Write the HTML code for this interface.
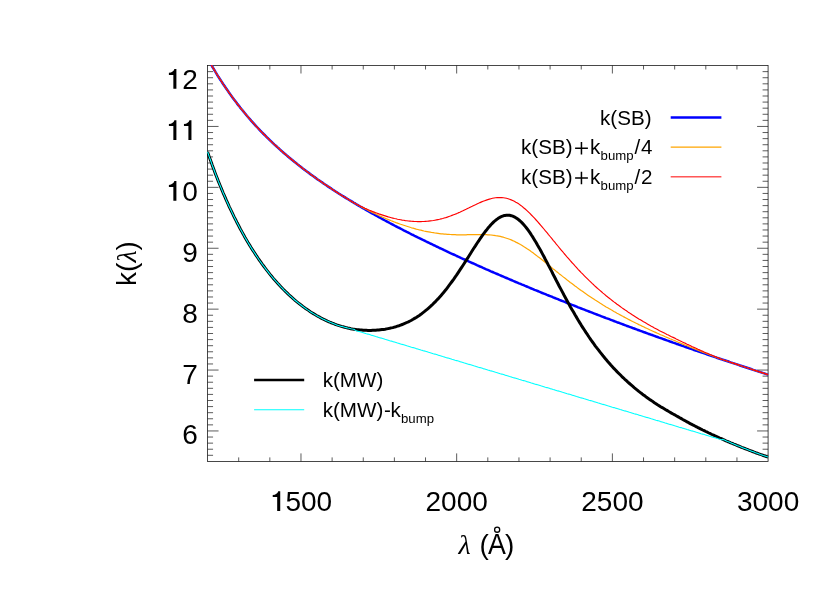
<!DOCTYPE html>
<html><head><meta charset="utf-8"><title>k(lambda)</title>
<style>
html,body{margin:0;padding:0;background:#fff;}
svg{display:block;will-change:transform;}
text{font-family:"Liberation Sans",sans-serif;fill:#000;}
.t{font-size:28px;}
.l{font-size:20.6px;}
.s{font-size:13.2px;}
</style></head><body>
<svg width="830" height="593" viewBox="0 0 830 593">
<rect width="830" height="593" fill="#fff"/>
<defs><clipPath id="c"><rect x="206.95" y="65.10" width="561.73" height="396.70"/></clipPath></defs>

<path d="M207.55 455.31L213.05 455.31M768.08 455.31L762.58 455.31M207.55 449.22L213.05 449.22M768.08 449.22L762.58 449.22M207.55 443.13L213.05 443.13M768.08 443.13L762.58 443.13M207.55 437.04L213.05 437.04M768.08 437.04L762.58 437.04M207.55 430.95L218.55 430.95M768.08 430.95L757.08 430.95M207.55 424.86L213.05 424.86M768.08 424.86L762.58 424.86M207.55 418.77L213.05 418.77M768.08 418.77L762.58 418.77M207.55 412.68L213.05 412.68M768.08 412.68L762.58 412.68M207.55 406.59L213.05 406.59M768.08 406.59L762.58 406.59M207.55 400.50L213.05 400.50M768.08 400.50L762.58 400.50M207.55 394.41L213.05 394.41M768.08 394.41L762.58 394.41M207.55 388.32L213.05 388.32M768.08 388.32L762.58 388.32M207.55 382.23L213.05 382.23M768.08 382.23L762.58 382.23M207.55 376.14L213.05 376.14M768.08 376.14L762.58 376.14M207.55 370.05L218.55 370.05M768.08 370.05L757.08 370.05M207.55 363.96L213.05 363.96M768.08 363.96L762.58 363.96M207.55 357.87L213.05 357.87M768.08 357.87L762.58 357.87M207.55 351.78L213.05 351.78M768.08 351.78L762.58 351.78M207.55 345.69L213.05 345.69M768.08 345.69L762.58 345.69M207.55 339.60L213.05 339.60M768.08 339.60L762.58 339.60M207.55 333.51L213.05 333.51M768.08 333.51L762.58 333.51M207.55 327.42L213.05 327.42M768.08 327.42L762.58 327.42M207.55 321.33L213.05 321.33M768.08 321.33L762.58 321.33M207.55 315.24L213.05 315.24M768.08 315.24L762.58 315.24M207.55 309.15L218.55 309.15M768.08 309.15L757.08 309.15M207.55 303.06L213.05 303.06M768.08 303.06L762.58 303.06M207.55 296.97L213.05 296.97M768.08 296.97L762.58 296.97M207.55 290.88L213.05 290.88M768.08 290.88L762.58 290.88M207.55 284.79L213.05 284.79M768.08 284.79L762.58 284.79M207.55 278.70L213.05 278.70M768.08 278.70L762.58 278.70M207.55 272.61L213.05 272.61M768.08 272.61L762.58 272.61M207.55 266.52L213.05 266.52M768.08 266.52L762.58 266.52M207.55 260.43L213.05 260.43M768.08 260.43L762.58 260.43M207.55 254.34L213.05 254.34M768.08 254.34L762.58 254.34M207.55 248.25L218.55 248.25M768.08 248.25L757.08 248.25M207.55 242.16L213.05 242.16M768.08 242.16L762.58 242.16M207.55 236.07L213.05 236.07M768.08 236.07L762.58 236.07M207.55 229.98L213.05 229.98M768.08 229.98L762.58 229.98M207.55 223.89L213.05 223.89M768.08 223.89L762.58 223.89M207.55 217.80L213.05 217.80M768.08 217.80L762.58 217.80M207.55 211.71L213.05 211.71M768.08 211.71L762.58 211.71M207.55 205.62L213.05 205.62M768.08 205.62L762.58 205.62M207.55 199.53L213.05 199.53M768.08 199.53L762.58 199.53M207.55 193.44L213.05 193.44M768.08 193.44L762.58 193.44M207.55 187.35L218.55 187.35M768.08 187.35L757.08 187.35M207.55 181.26L213.05 181.26M768.08 181.26L762.58 181.26M207.55 175.17L213.05 175.17M768.08 175.17L762.58 175.17M207.55 169.08L213.05 169.08M768.08 169.08L762.58 169.08M207.55 162.99L213.05 162.99M768.08 162.99L762.58 162.99M207.55 156.90L213.05 156.90M768.08 156.90L762.58 156.90M207.55 150.81L213.05 150.81M768.08 150.81L762.58 150.81M207.55 144.72L213.05 144.72M768.08 144.72L762.58 144.72M207.55 138.63L213.05 138.63M768.08 138.63L762.58 138.63M207.55 132.54L213.05 132.54M768.08 132.54L762.58 132.54M207.55 126.45L218.55 126.45M768.08 126.45L757.08 126.45M207.55 120.36L213.05 120.36M768.08 120.36L762.58 120.36M207.55 114.27L213.05 114.27M768.08 114.27L762.58 114.27M207.55 108.18L213.05 108.18M768.08 108.18L762.58 108.18M207.55 102.09L213.05 102.09M768.08 102.09L762.58 102.09M207.55 96.00L213.05 96.00M768.08 96.00L762.58 96.00M207.55 89.91L213.05 89.91M768.08 89.91L762.58 89.91M207.55 83.82L213.05 83.82M768.08 83.82L762.58 83.82M207.55 77.73L213.05 77.73M768.08 77.73L762.58 77.73M207.55 71.64L213.05 71.64M768.08 71.64L762.58 71.64M238.69 461.40L238.69 457.40M238.69 65.50L238.69 69.50M269.83 461.40L269.83 457.40M269.83 65.50L269.83 69.50M300.97 461.40L300.97 453.40M300.97 65.50L300.97 73.50M332.11 461.40L332.11 457.40M332.11 65.50L332.11 69.50M363.25 461.40L363.25 457.40M363.25 65.50L363.25 69.50M394.39 461.40L394.39 457.40M394.39 65.50L394.39 69.50M425.53 461.40L425.53 457.40M425.53 65.50L425.53 69.50M456.67 461.40L456.67 453.40M456.67 65.50L456.67 73.50M487.81 461.40L487.81 457.40M487.81 65.50L487.81 69.50M518.96 461.40L518.96 457.40M518.96 65.50L518.96 69.50M550.10 461.40L550.10 457.40M550.10 65.50L550.10 69.50M581.24 461.40L581.24 457.40M581.24 65.50L581.24 69.50M612.38 461.40L612.38 453.40M612.38 65.50L612.38 73.50M643.52 461.40L643.52 457.40M643.52 65.50L643.52 69.50M674.66 461.40L674.66 457.40M674.66 65.50L674.66 69.50M705.80 461.40L705.80 457.40M705.80 65.50L705.80 69.50M736.94 461.40L736.94 457.40M736.94 65.50L736.94 69.50" stroke="#1c1c1c" stroke-width="0.72" fill="none"/>
<rect x="207.55" y="65.50" width="560.53" height="395.90" fill="none" stroke="#151515" stroke-width="0.78"/>
<g clip-path="url(#c)" fill="none" stroke-linejoin="round">
<path d="M207.6,58.3 L209.1,61.1 L210.7,63.8 L212.2,66.5 L213.8,69.1 L215.3,71.7 L216.9,74.3 L218.4,76.8 L220.0,79.2 L221.6,81.6 L223.1,84.0 L224.7,86.3 L226.2,88.6 L227.8,90.8 L229.3,93.1 L230.9,95.2 L232.5,97.4 L234.0,99.5 L235.6,101.6 L237.1,103.6 L238.7,105.6 L240.2,107.6 L241.8,109.5 L243.4,111.4 L244.9,113.3 L246.5,115.2 L248.0,117.0 L249.6,118.8 L251.1,120.6 L252.7,122.3 L254.3,124.1 L255.8,125.8 L257.4,127.5 L258.9,129.1 L260.5,130.8 L262.0,132.4 L263.6,134.0 L265.2,135.5 L266.7,137.1 L268.3,138.6 L269.8,140.1 L271.4,141.6 L272.9,143.1 L274.5,144.6 L276.1,146.0 L277.6,147.4 L279.2,148.8 L280.7,150.2 L282.3,151.6 L283.8,153.0 L285.4,154.3 L287.0,155.6 L288.5,157.0 L290.1,158.3 L291.6,159.5 L293.2,160.8 L294.7,162.1 L296.3,163.3 L297.9,164.6 L299.4,165.8 L301.0,167.0 L302.5,168.2 L304.1,169.4 L305.6,170.6 L307.2,171.8 L308.8,172.9 L310.3,174.1 L311.9,175.2 L313.4,176.3 L315.0,177.4 L316.5,178.6 L318.1,179.7 L319.7,180.7 L321.2,181.8 L322.8,182.9 L324.3,184.0 L325.9,185.0 L327.4,186.1 L329.0,187.1 L330.6,188.1 L332.1,189.2 L333.7,190.2 L335.2,191.2 L336.8,192.2 L338.3,193.2 L339.9,194.2 L341.5,195.2 L343.0,196.2 L344.6,197.1 L346.1,198.1 L347.7,199.0 L349.2,200.0 L350.8,200.9 L352.4,201.9 L353.9,202.8 L355.5,203.7 L357.0,204.7 L358.6,205.6 L360.1,206.5 L361.7,207.4 L363.3,208.3 L364.8,209.2 L366.4,210.1 L367.9,211.0 L369.5,211.9 L371.0,212.8 L372.6,213.6 L374.2,214.5 L375.7,215.4 L377.3,216.2 L378.8,217.1 L380.4,217.9 L381.9,218.8 L383.5,219.6 L385.1,220.5 L386.6,221.3 L388.2,222.2 L389.7,223.0 L391.3,223.8 L392.8,224.6 L394.4,225.5 L396.0,226.3 L397.5,227.1 L399.1,227.9 L400.6,228.7 L402.2,229.5 L403.7,230.3 L405.3,231.1 L406.8,231.9 L408.4,232.7 L410.0,233.5 L411.5,234.3 L413.1,235.0 L414.6,235.8 L416.2,236.6 L417.7,237.4 L419.3,238.1 L420.9,238.9 L422.4,239.7 L424.0,240.4 L425.5,241.2 L427.1,242.0 L428.6,242.7 L430.2,243.5 L431.8,244.2 L433.3,245.0 L434.9,245.7 L436.4,246.5 L438.0,247.2 L439.5,248.0 L441.1,248.7 L442.7,249.4 L444.2,250.2 L445.8,250.9 L447.3,251.6 L448.9,252.4 L450.4,253.1 L452.0,253.8 L453.6,254.5 L455.1,255.2 L456.7,256.0 L458.2,256.7 L459.8,257.4 L461.3,258.1 L462.9,258.8 L464.5,259.5 L466.0,260.2 L467.6,260.9 L469.1,261.6 L470.7,262.3 L472.2,263.0 L473.8,263.7 L475.4,264.4 L476.9,265.1 L478.5,265.8 L480.0,266.5 L481.6,267.2 L483.1,267.9 L484.7,268.6 L486.3,269.3 L487.8,269.9 L489.4,270.6 L490.9,271.3 L492.5,272.0 L494.0,272.7 L495.6,273.3 L497.2,274.0 L498.7,274.7 L500.3,275.3 L501.8,276.0 L503.4,276.7 L504.9,277.3 L506.5,278.0 L508.1,278.7 L509.6,279.3 L511.2,280.0 L512.7,280.7 L514.3,281.3 L515.8,282.0 L517.4,282.6 L519.0,283.3 L520.5,283.9 L522.1,284.6 L523.6,285.2 L525.2,285.9 L526.7,286.5 L528.3,287.2 L529.9,287.8 L531.4,288.5 L533.0,289.1 L534.5,289.8 L536.1,290.4 L537.6,291.0 L539.2,291.7 L540.8,292.3 L542.3,293.0 L543.9,293.6 L545.4,294.2 L547.0,294.9 L548.5,295.5 L550.1,296.1 L551.7,296.7 L553.2,297.4 L554.8,298.0 L556.3,298.6 L557.9,299.2 L559.4,299.9 L561.0,300.5 L562.6,301.1 L564.1,301.7 L565.7,302.3 L567.2,303.0 L568.8,303.6 L570.3,304.2 L571.9,304.8 L573.5,305.4 L575.0,306.0 L576.6,306.6 L578.1,307.3 L579.7,307.9 L581.2,308.5 L582.8,309.1 L584.4,309.7 L585.9,310.3 L587.5,310.9 L589.0,311.5 L590.6,312.1 L592.1,312.7 L593.7,313.3 L595.2,313.9 L596.8,314.5 L598.4,315.1 L599.9,315.7 L601.5,316.3 L603.0,316.9 L604.6,317.5 L606.1,318.1 L607.7,318.6 L609.3,319.2 L610.8,319.8 L612.4,320.4 L613.9,321.0 L615.5,321.6 L617.0,322.2 L618.6,322.7 L620.2,323.3 L621.7,323.9 L623.3,324.5 L624.8,325.1 L626.4,325.7 L627.9,326.2 L629.5,326.8 L631.1,327.4 L632.6,328.0 L634.2,328.5 L635.7,329.1 L637.3,329.7 L638.8,330.2 L640.4,330.8 L642.0,331.4 L643.5,332.0 L645.1,332.5 L646.6,333.1 L648.2,333.7 L649.7,334.2 L651.3,334.8 L652.9,335.3 L654.4,335.9 L656.0,336.5 L657.5,337.0 L659.1,337.6 L660.6,338.1 L662.2,338.7 L663.8,339.3 L665.3,339.8 L666.9,340.4 L668.4,340.9 L670.0,341.5 L671.5,342.0 L673.1,342.6 L674.7,343.1 L676.2,343.7 L677.8,344.2 L679.3,344.8 L680.9,345.3 L682.4,345.9 L684.0,346.4 L685.6,347.0 L687.1,347.5 L688.7,348.0 L690.2,348.6 L691.8,349.1 L693.3,349.7 L694.9,350.2 L696.5,350.7 L698.0,351.3 L699.6,351.8 L701.1,352.3 L702.7,352.9 L704.2,353.4 L705.8,353.9 L707.4,354.5 L708.9,355.0 L710.5,355.5 L712.0,356.1 L713.6,356.6 L715.1,357.1 L716.7,357.7 L718.3,358.2 L719.8,358.7 L721.4,359.2 L722.9,359.8 L724.5,360.3 L726.0,360.8 L727.6,361.3 L729.2,361.8 L730.7,362.4 L732.3,362.9 L733.8,363.4 L735.4,363.9 L736.9,364.4 L738.5,364.9 L740.1,365.5 L741.6,366.0 L743.2,366.5 L744.7,367.0 L746.3,367.5 L747.8,368.0 L749.4,368.5 L751.0,369.0 L752.5,369.6 L754.1,370.1 L755.6,370.6 L757.2,371.1 L758.7,371.6 L760.3,372.1 L761.9,372.6 L763.4,373.1 L765.0,373.6 L766.5,374.1 L768.1,374.6" stroke="#0000ff" stroke-width="2.5"/>
<path d="M207.6,58.3 L209.1,61.1 L210.7,63.8 L212.2,66.5 L213.8,69.1 L215.3,71.7 L216.9,74.3 L218.4,76.8 L220.0,79.2 L221.6,81.6 L223.1,84.0 L224.7,86.3 L226.2,88.6 L227.8,90.8 L229.3,93.1 L230.9,95.2 L232.5,97.4 L234.0,99.5 L235.6,101.6 L237.1,103.6 L238.7,105.6 L240.2,107.6 L241.8,109.5 L243.4,111.4 L244.9,113.3 L246.5,115.2 L248.0,117.0 L249.6,118.8 L251.1,120.6 L252.7,122.3 L254.3,124.1 L255.8,125.8 L257.4,127.5 L258.9,129.1 L260.5,130.8 L262.0,132.4 L263.6,134.0 L265.2,135.5 L266.7,137.1 L268.3,138.6 L269.8,140.1 L271.4,141.6 L272.9,143.1 L274.5,144.6 L276.1,146.0 L277.6,147.4 L279.2,148.8 L280.7,150.2 L282.3,151.6 L283.8,153.0 L285.4,154.3 L287.0,155.6 L288.5,157.0 L290.1,158.3 L291.6,159.5 L293.2,160.8 L294.7,162.1 L296.3,163.3 L297.9,164.6 L299.4,165.8 L301.0,167.0 L302.5,168.2 L304.1,169.4 L305.6,170.6 L307.2,171.8 L308.8,172.9 L310.3,174.1 L311.9,175.2 L313.4,176.3 L315.0,177.4 L316.5,178.6 L318.1,179.7 L319.7,180.7 L321.2,181.8 L322.8,182.9 L324.3,184.0 L325.9,185.0 L327.4,186.1 L329.0,187.1 L330.6,188.1 L332.1,189.2 L333.7,190.2 L335.2,191.2 L336.8,192.2 L338.3,193.2 L339.9,194.2 L341.5,195.2 L343.0,196.2 L344.6,197.1 L346.1,198.1 L347.7,199.0 L349.2,200.0 L350.8,200.9 L352.4,201.9 L353.9,202.8 L355.5,203.7 L357.0,204.6 L358.6,205.5 L360.1,206.3 L361.7,207.1 L363.3,207.9 L364.8,208.7 L366.4,209.5 L367.9,210.3 L369.5,211.1 L371.0,211.8 L372.6,212.6 L374.2,213.3 L375.7,214.0 L377.3,214.8 L378.8,215.5 L380.4,216.2 L381.9,216.9 L383.5,217.5 L385.1,218.2 L386.6,218.9 L388.2,219.5 L389.7,220.1 L391.3,220.8 L392.8,221.4 L394.4,222.0 L396.0,222.6 L397.5,223.1 L399.1,223.7 L400.6,224.3 L402.2,224.8 L403.7,225.3 L405.3,225.8 L406.8,226.3 L408.4,226.8 L410.0,227.3 L411.5,227.8 L413.1,228.2 L414.6,228.6 L416.2,229.1 L417.7,229.5 L419.3,229.9 L420.9,230.2 L422.4,230.6 L424.0,231.0 L425.5,231.3 L427.1,231.6 L428.6,231.9 L430.2,232.2 L431.8,232.5 L433.3,232.7 L434.9,233.0 L436.4,233.2 L438.0,233.4 L439.5,233.6 L441.1,233.8 L442.7,233.9 L444.2,234.1 L445.8,234.2 L447.3,234.3 L448.9,234.4 L450.4,234.5 L452.0,234.6 L453.6,234.7 L455.1,234.7 L456.7,234.8 L458.2,234.8 L459.8,234.8 L461.3,234.8 L462.9,234.8 L464.5,234.8 L466.0,234.8 L467.6,234.7 L469.1,234.7 L470.7,234.7 L472.2,234.6 L473.8,234.6 L475.4,234.6 L476.9,234.6 L478.5,234.6 L480.0,234.6 L481.6,234.6 L483.1,234.6 L484.7,234.6 L486.3,234.7 L487.8,234.8 L489.4,234.9 L490.9,235.0 L492.5,235.2 L494.0,235.3 L495.6,235.6 L497.2,235.8 L498.7,236.1 L500.3,236.4 L501.8,236.8 L503.4,237.2 L504.9,237.7 L506.5,238.2 L508.1,238.7 L509.6,239.3 L511.2,239.9 L512.7,240.6 L514.3,241.3 L515.8,242.1 L517.4,242.9 L519.0,243.7 L520.5,244.6 L522.1,245.5 L523.6,246.5 L525.2,247.4 L526.7,248.5 L528.3,249.5 L529.9,250.6 L531.4,251.7 L533.0,252.8 L534.5,254.0 L536.1,255.2 L537.6,256.4 L539.2,257.6 L540.8,258.8 L542.3,260.0 L543.9,261.3 L545.4,262.5 L547.0,263.8 L548.5,265.1 L550.1,266.3 L551.7,267.6 L553.2,268.9 L554.8,270.1 L556.3,271.4 L557.9,272.6 L559.4,273.9 L561.0,275.1 L562.6,276.4 L564.1,277.6 L565.7,278.8 L567.2,280.1 L568.8,281.3 L570.3,282.5 L571.9,283.6 L573.5,284.8 L575.0,286.0 L576.6,287.1 L578.1,288.3 L579.7,289.4 L581.2,290.5 L582.8,291.6 L584.4,292.7 L585.9,293.8 L587.5,294.9 L589.0,295.9 L590.6,297.0 L592.1,298.0 L593.7,299.1 L595.2,300.1 L596.8,301.1 L598.4,302.1 L599.9,303.1 L601.5,304.0 L603.0,305.0 L604.6,305.9 L606.1,306.9 L607.7,307.8 L609.3,308.7 L610.8,309.6 L612.4,310.5 L613.9,311.4 L615.5,312.3 L617.0,313.2 L618.6,314.0 L620.2,314.9 L621.7,315.7 L623.3,316.6 L624.8,317.4 L626.4,318.2 L627.9,319.1 L629.5,319.9 L631.1,320.7 L632.6,321.5 L634.2,322.2 L635.7,323.0 L637.3,323.8 L638.8,324.6 L640.4,325.3 L642.0,326.1 L643.5,326.8 L645.1,327.6 L646.6,328.3 L648.2,329.0 L649.7,329.8 L651.3,330.5 L652.9,331.2 L654.4,331.9 L656.0,332.6 L657.5,333.3 L659.1,334.0 L660.6,334.7 L662.2,335.3 L663.8,336.0 L665.3,336.7 L666.9,337.4 L668.4,338.0 L670.0,338.7 L671.5,339.3 L673.1,340.0 L674.7,340.6 L676.2,341.3 L677.8,342.0 L679.3,342.6 L680.9,343.3 L682.4,343.9 L684.0,344.6 L685.6,345.2 L687.1,345.8 L688.7,346.5 L690.2,347.1 L691.8,347.7 L693.3,348.4 L694.9,349.0 L696.5,349.6 L698.0,350.2 L699.6,350.9 L701.1,351.5 L702.7,352.1 L704.2,352.7 L705.8,353.3 L707.4,353.9 L708.9,354.5 L710.5,355.1 L712.0,355.7 L713.6,356.3 L715.1,356.9 L716.7,357.5 L718.3,358.1 L719.8,358.6 L721.4,359.2 L722.9,359.8 L724.5,360.3 L726.0,360.8 L727.6,361.3 L729.2,361.8 L730.7,362.4 L732.3,362.9 L733.8,363.4 L735.4,363.9 L736.9,364.4 L738.5,364.9 L740.1,365.5 L741.6,366.0 L743.2,366.5 L744.7,367.0 L746.3,367.5 L747.8,368.0 L749.4,368.5 L751.0,369.0 L752.5,369.6 L754.1,370.1 L755.6,370.6 L757.2,371.1 L758.7,371.6 L760.3,372.1 L761.9,372.6 L763.4,373.1 L765.0,373.6 L766.5,374.1 L768.1,374.6" stroke="#ffa500" stroke-width="1.2"/>
<path d="M207.6,58.3 L209.1,61.1 L210.7,63.8 L212.2,66.5 L213.8,69.1 L215.3,71.7 L216.9,74.3 L218.4,76.8 L220.0,79.2 L221.6,81.6 L223.1,84.0 L224.7,86.3 L226.2,88.6 L227.8,90.8 L229.3,93.1 L230.9,95.2 L232.5,97.4 L234.0,99.5 L235.6,101.6 L237.1,103.6 L238.7,105.6 L240.2,107.6 L241.8,109.5 L243.4,111.4 L244.9,113.3 L246.5,115.2 L248.0,117.0 L249.6,118.8 L251.1,120.6 L252.7,122.3 L254.3,124.1 L255.8,125.8 L257.4,127.5 L258.9,129.1 L260.5,130.8 L262.0,132.4 L263.6,134.0 L265.2,135.5 L266.7,137.1 L268.3,138.6 L269.8,140.1 L271.4,141.6 L272.9,143.1 L274.5,144.6 L276.1,146.0 L277.6,147.4 L279.2,148.8 L280.7,150.2 L282.3,151.6 L283.8,153.0 L285.4,154.3 L287.0,155.6 L288.5,157.0 L290.1,158.3 L291.6,159.5 L293.2,160.8 L294.7,162.1 L296.3,163.3 L297.9,164.6 L299.4,165.8 L301.0,167.0 L302.5,168.2 L304.1,169.4 L305.6,170.6 L307.2,171.8 L308.8,172.9 L310.3,174.1 L311.9,175.2 L313.4,176.3 L315.0,177.4 L316.5,178.6 L318.1,179.7 L319.7,180.7 L321.2,181.8 L322.8,182.9 L324.3,184.0 L325.9,185.0 L327.4,186.1 L329.0,187.1 L330.6,188.1 L332.1,189.2 L333.7,190.2 L335.2,191.2 L336.8,192.2 L338.3,193.2 L339.9,194.2 L341.5,195.2 L343.0,196.2 L344.6,197.1 L346.1,198.1 L347.7,199.0 L349.2,200.0 L350.8,200.9 L352.4,201.9 L353.9,202.8 L355.5,203.7 L357.0,204.5 L358.6,205.3 L360.1,206.1 L361.7,206.8 L363.3,207.5 L364.8,208.2 L366.4,208.9 L367.9,209.6 L369.5,210.3 L371.0,210.9 L372.6,211.5 L374.2,212.1 L375.7,212.7 L377.3,213.3 L378.8,213.9 L380.4,214.4 L381.9,214.9 L383.5,215.4 L385.1,215.9 L386.6,216.4 L388.2,216.9 L389.7,217.3 L391.3,217.7 L392.8,218.1 L394.4,218.5 L396.0,218.8 L397.5,219.2 L399.1,219.5 L400.6,219.8 L402.2,220.1 L403.7,220.3 L405.3,220.6 L406.8,220.8 L408.4,221.0 L410.0,221.1 L411.5,221.3 L413.1,221.4 L414.6,221.5 L416.2,221.5 L417.7,221.6 L419.3,221.6 L420.9,221.6 L422.4,221.5 L424.0,221.5 L425.5,221.4 L427.1,221.3 L428.6,221.1 L430.2,220.9 L431.8,220.7 L433.3,220.5 L434.9,220.2 L436.4,219.9 L438.0,219.6 L439.5,219.3 L441.1,218.9 L442.7,218.5 L444.2,218.0 L445.8,217.6 L447.3,217.1 L448.9,216.5 L450.4,216.0 L452.0,215.4 L453.6,214.8 L455.1,214.2 L456.7,213.6 L458.2,212.9 L459.8,212.2 L461.3,211.5 L462.9,210.8 L464.5,210.0 L466.0,209.3 L467.6,208.5 L469.1,207.8 L470.7,207.0 L472.2,206.3 L473.8,205.5 L475.4,204.8 L476.9,204.0 L478.5,203.3 L480.0,202.6 L481.6,201.9 L483.1,201.3 L484.7,200.7 L486.3,200.1 L487.8,199.6 L489.4,199.1 L490.9,198.7 L492.5,198.3 L494.0,198.0 L495.6,197.8 L497.2,197.6 L498.7,197.6 L500.3,197.6 L501.8,197.6 L503.4,197.8 L504.9,198.0 L506.5,198.3 L508.1,198.8 L509.6,199.3 L511.2,199.9 L512.7,200.5 L514.3,201.3 L515.8,202.2 L517.4,203.1 L519.0,204.1 L520.5,205.2 L522.1,206.4 L523.6,207.7 L525.2,209.0 L526.7,210.4 L528.3,211.9 L529.9,213.4 L531.4,215.0 L533.0,216.6 L534.5,218.2 L536.1,220.0 L537.6,221.7 L539.2,223.5 L540.8,225.3 L542.3,227.1 L543.9,229.0 L545.4,230.9 L547.0,232.7 L548.5,234.6 L550.1,236.5 L551.7,238.4 L553.2,240.3 L554.8,242.2 L556.3,244.1 L557.9,246.0 L559.4,247.9 L561.0,249.8 L562.6,251.7 L564.1,253.5 L565.7,255.3 L567.2,257.1 L568.8,258.9 L570.3,260.7 L571.9,262.5 L573.5,264.2 L575.0,265.9 L576.6,267.6 L578.1,269.3 L579.7,271.0 L581.2,272.6 L582.8,274.2 L584.4,275.8 L585.9,277.3 L587.5,278.9 L589.0,280.4 L590.6,281.9 L592.1,283.4 L593.7,284.8 L595.2,286.3 L596.8,287.7 L598.4,289.1 L599.9,290.4 L601.5,291.8 L603.0,293.1 L604.6,294.4 L606.1,295.7 L607.7,297.0 L609.3,298.2 L610.8,299.4 L612.4,300.7 L613.9,301.9 L615.5,303.0 L617.0,304.2 L618.6,305.3 L620.2,306.5 L621.7,307.6 L623.3,308.7 L624.8,309.8 L626.4,310.8 L627.9,311.9 L629.5,312.9 L631.1,314.0 L632.6,315.0 L634.2,316.0 L635.7,316.9 L637.3,317.9 L638.8,318.9 L640.4,319.8 L642.0,320.8 L643.5,321.7 L645.1,322.6 L646.6,323.5 L648.2,324.4 L649.7,325.3 L651.3,326.2 L652.9,327.0 L654.4,327.9 L656.0,328.7 L657.5,329.5 L659.1,330.4 L660.6,331.2 L662.2,332.0 L663.8,332.8 L665.3,333.6 L666.9,334.4 L668.4,335.1 L670.0,335.9 L671.5,336.7 L673.1,337.4 L674.7,338.1 L676.2,338.9 L677.8,339.7 L679.3,340.5 L680.9,341.2 L682.4,342.0 L684.0,342.7 L685.6,343.4 L687.1,344.2 L688.7,344.9 L690.2,345.6 L691.8,346.4 L693.3,347.1 L694.9,347.8 L696.5,348.5 L698.0,349.2 L699.6,349.9 L701.1,350.6 L702.7,351.3 L704.2,352.0 L705.8,352.7 L707.4,353.3 L708.9,354.0 L710.5,354.7 L712.0,355.3 L713.6,356.0 L715.1,356.6 L716.7,357.3 L718.3,357.9 L719.8,358.6 L721.4,359.2 L722.9,359.8 L724.5,360.3 L726.0,360.8 L727.6,361.3 L729.2,361.8 L730.7,362.4 L732.3,362.9 L733.8,363.4 L735.4,363.9 L736.9,364.4 L738.5,364.9 L740.1,365.5 L741.6,366.0 L743.2,366.5 L744.7,367.0 L746.3,367.5 L747.8,368.0 L749.4,368.5 L751.0,369.0 L752.5,369.6 L754.1,370.1 L755.6,370.6 L757.2,371.1 L758.7,371.6 L760.3,372.1 L761.9,372.6 L763.4,373.1 L765.0,373.6 L766.5,374.1 L768.1,374.6" stroke="#ff0000" stroke-width="1.15"/>
<path d="M207.6,151.9 L209.1,156.4 L210.7,160.8 L212.2,165.1 L213.8,169.3 L215.3,173.4 L216.9,177.5 L218.4,181.4 L220.0,185.3 L221.6,189.1 L223.1,192.8 L224.7,196.4 L226.2,199.9 L227.8,203.4 L229.3,206.8 L230.9,210.1 L232.5,213.4 L234.0,216.6 L235.6,219.7 L237.1,222.8 L238.7,225.8 L240.2,228.7 L241.8,231.6 L243.4,234.4 L244.9,237.2 L246.5,239.9 L248.0,242.5 L249.6,245.1 L251.1,247.6 L252.7,250.1 L254.3,252.5 L255.8,254.9 L257.4,257.2 L258.9,259.5 L260.5,261.7 L262.0,263.9 L263.6,266.0 L265.2,268.1 L266.7,270.1 L268.3,272.1 L269.8,274.1 L271.4,276.0 L272.9,277.9 L274.5,279.7 L276.1,281.5 L277.6,283.2 L279.2,284.9 L280.7,286.6 L282.3,288.2 L283.8,289.8 L285.4,291.4 L287.0,292.9 L288.5,294.4 L290.1,295.8 L291.6,297.2 L293.2,298.6 L294.7,300.0 L296.3,301.3 L297.9,302.6 L299.4,303.8 L301.0,305.0 L302.5,306.2 L304.1,307.4 L305.6,308.5 L307.2,309.6 L308.8,310.6 L310.3,311.7 L311.9,312.7 L313.4,313.6 L315.0,314.6 L316.5,315.5 L318.1,316.4 L319.7,317.2 L321.2,318.1 L322.8,318.9 L324.3,319.6 L325.9,320.4 L327.4,321.1 L329.0,321.8 L330.6,322.5 L332.1,323.1 L333.7,323.7 L335.2,324.3 L336.8,324.9 L338.3,325.4 L339.9,325.9 L341.5,326.4 L343.0,326.8 L344.6,327.2 L346.1,327.6 L347.7,328.0 L349.2,328.3 L350.8,328.7 L352.4,329.0 L353.9,329.2 L355.5,329.4 L357.0,329.7 L358.6,329.8 L360.1,330.0 L361.7,330.1 L363.3,330.2 L364.8,330.3 L366.4,330.3 L367.9,330.4 L369.5,330.4 L371.0,330.4 L372.6,330.3 L374.2,330.3 L375.7,330.2 L377.3,330.1 L378.8,330.0 L380.4,329.8 L381.9,329.6 L383.5,329.4 L385.1,329.2 L386.6,328.9 L388.2,328.6 L389.7,328.3 L391.3,327.9 L392.8,327.6 L394.4,327.1 L396.0,326.7 L397.5,326.2 L399.1,325.7 L400.6,325.1 L402.2,324.5 L403.7,323.9 L405.3,323.2 L406.8,322.5 L408.4,321.8 L410.0,321.0 L411.5,320.2 L413.1,319.3 L414.6,318.4 L416.2,317.4 L417.7,316.4 L419.3,315.4 L420.9,314.3 L422.4,313.1 L424.0,311.9 L425.5,310.7 L427.1,309.4 L428.6,308.1 L430.2,306.7 L431.8,305.2 L433.3,303.7 L434.9,302.2 L436.4,300.5 L438.0,298.9 L439.5,297.2 L441.1,295.4 L442.7,293.6 L444.2,291.7 L445.8,289.8 L447.3,287.8 L448.9,285.7 L450.4,283.7 L452.0,281.5 L453.6,279.3 L455.1,277.1 L456.7,274.9 L458.2,272.6 L459.8,270.2 L461.3,267.9 L462.9,265.5 L464.5,263.0 L466.0,260.6 L467.6,258.2 L469.1,255.7 L470.7,253.2 L472.2,250.8 L473.8,248.3 L475.4,245.9 L476.9,243.5 L478.5,241.2 L480.0,238.9 L481.6,236.6 L483.1,234.4 L484.7,232.3 L486.3,230.3 L487.8,228.3 L489.4,226.5 L490.9,224.7 L492.5,223.1 L494.0,221.6 L495.6,220.3 L497.2,219.1 L498.7,218.0 L500.3,217.1 L501.8,216.4 L503.4,215.8 L504.9,215.4 L506.5,215.2 L508.1,215.2 L509.6,215.3 L511.2,215.7 L512.7,216.2 L514.3,216.9 L515.8,217.7 L517.4,218.8 L519.0,220.0 L520.5,221.3 L522.1,222.9 L523.6,224.5 L525.2,226.4 L526.7,228.3 L528.3,230.4 L529.9,232.6 L531.4,235.0 L533.0,237.4 L534.5,239.9 L536.1,242.5 L537.6,245.2 L539.2,247.9 L540.8,250.8 L542.3,253.6 L543.9,256.5 L545.4,259.5 L547.0,262.4 L548.5,265.4 L550.1,268.4 L551.7,271.4 L553.2,274.5 L554.8,277.5 L556.3,280.5 L557.9,283.5 L559.4,286.5 L561.0,289.4 L562.6,292.4 L564.1,295.3 L565.7,298.2 L567.2,301.0 L568.8,303.9 L570.3,306.7 L571.9,309.4 L573.5,312.1 L575.0,314.8 L576.6,317.4 L578.1,320.0 L579.7,322.6 L581.2,325.1 L582.8,327.6 L584.4,330.0 L585.9,332.4 L587.5,334.7 L589.0,337.0 L590.6,339.3 L592.1,341.5 L593.7,343.7 L595.2,345.8 L596.8,347.9 L598.4,349.9 L599.9,351.9 L601.5,353.9 L603.0,355.8 L604.6,357.7 L606.1,359.6 L607.7,361.4 L609.3,363.2 L610.8,365.0 L612.4,366.7 L613.9,368.4 L615.5,370.0 L617.0,371.6 L618.6,373.2 L620.2,374.8 L621.7,376.3 L623.3,377.8 L624.8,379.3 L626.4,380.7 L627.9,382.1 L629.5,383.5 L631.1,384.9 L632.6,386.2 L634.2,387.6 L635.7,388.8 L637.3,390.1 L638.8,391.4 L640.4,392.6 L642.0,393.8 L643.5,395.0 L645.1,396.1 L646.6,397.3 L648.2,398.4 L649.7,399.5 L651.3,400.6 L652.9,401.6 L654.4,402.7 L656.0,403.7 L657.5,404.7 L659.1,405.7 L660.6,406.7 L662.2,407.6 L663.8,408.6 L665.3,409.5 L666.9,410.4 L668.4,411.3 L670.0,412.2 L671.5,413.1 L673.1,414.0 L674.7,414.8 L676.2,415.7 L677.8,416.6 L679.3,417.5 L680.9,418.4 L682.4,419.3 L684.0,420.2 L685.6,421.0 L687.1,421.9 L688.7,422.7 L690.2,423.6 L691.8,424.4 L693.3,425.2 L694.9,426.0 L696.5,426.8 L698.0,427.6 L699.6,428.4 L701.1,429.2 L702.7,430.0 L704.2,430.7 L705.8,431.5 L707.4,432.2 L708.9,433.0 L710.5,433.7 L712.0,434.5 L713.6,435.2 L715.1,435.9 L716.7,436.6 L718.3,437.3 L719.8,438.0 L721.4,438.7 L722.9,439.4 L724.5,440.1 L726.0,440.8 L727.6,441.5 L729.2,442.1 L730.7,442.8 L732.3,443.4 L733.8,444.1 L735.4,444.7 L736.9,445.4 L738.5,446.0 L740.1,446.6 L741.6,447.3 L743.2,447.9 L744.7,448.5 L746.3,449.1 L747.8,449.7 L749.4,450.3 L751.0,450.9 L752.5,451.5 L754.1,452.1 L755.6,452.7 L757.2,453.2 L758.7,453.8 L760.3,454.4 L761.9,454.9 L763.4,455.5 L765.0,456.0 L766.5,456.6 L768.1,457.1" stroke="#000" stroke-width="3.0"/>
<path d="M207.6,151.9 L209.1,156.4 L210.7,160.8 L212.2,165.1 L213.8,169.3 L215.3,173.4 L216.9,177.5 L218.4,181.4 L220.0,185.3 L221.6,189.1 L223.1,192.8 L224.7,196.4 L226.2,199.9 L227.8,203.4 L229.3,206.8 L230.9,210.1 L232.5,213.4 L234.0,216.6 L235.6,219.7 L237.1,222.8 L238.7,225.8 L240.2,228.7 L241.8,231.6 L243.4,234.4 L244.9,237.2 L246.5,239.9 L248.0,242.5 L249.6,245.1 L251.1,247.6 L252.7,250.1 L254.3,252.5 L255.8,254.9 L257.4,257.2 L258.9,259.5 L260.5,261.7 L262.0,263.9 L263.6,266.0 L265.2,268.1 L266.7,270.1 L268.3,272.1 L269.8,274.1 L271.4,276.0 L272.9,277.9 L274.5,279.7 L276.1,281.5 L277.6,283.2 L279.2,284.9 L280.7,286.6 L282.3,288.2 L283.8,289.8 L285.4,291.4 L287.0,292.9 L288.5,294.4 L290.1,295.8 L291.6,297.2 L293.2,298.6 L294.7,300.0 L296.3,301.3 L297.9,302.6 L299.4,303.8 L301.0,305.0 L302.5,306.2 L304.1,307.4 L305.6,308.5 L307.2,309.6 L308.8,310.6 L310.3,311.7 L311.9,312.7 L313.4,313.6 L315.0,314.6 L316.5,315.5 L318.1,316.4 L319.7,317.2 L321.2,318.1 L322.8,318.9 L324.3,319.6 L325.9,320.4 L327.4,321.1 L329.0,321.8 L330.6,322.5 L332.1,323.1 L333.7,323.7 L335.2,324.3 L336.8,324.9 L338.3,325.4 L339.9,325.9 L341.5,326.4 L343.0,326.8 L344.6,327.2 L346.1,327.6 L347.7,328.0 L349.2,328.3 L350.8,328.7 L352.4,329.0 L353.9,329.2 L355.5,330.4 L357.0,330.9 L358.6,331.4 L360.1,331.8 L361.7,332.3 L363.3,332.7 L364.8,333.2 L366.4,333.7 L367.9,334.1 L369.5,334.6 L371.0,335.1 L372.6,335.5 L374.2,336.0 L375.7,336.5 L377.3,336.9 L378.8,337.4 L380.4,337.9 L381.9,338.3 L383.5,338.8 L385.1,339.3 L386.6,339.7 L388.2,340.2 L389.7,340.7 L391.3,341.1 L392.8,341.6 L394.4,342.0 L396.0,342.5 L397.5,343.0 L399.1,343.4 L400.6,343.9 L402.2,344.4 L403.7,344.8 L405.3,345.3 L406.8,345.8 L408.4,346.2 L410.0,346.7 L411.5,347.2 L413.1,347.6 L414.6,348.1 L416.2,348.6 L417.7,349.0 L419.3,349.5 L420.9,350.0 L422.4,350.4 L424.0,350.9 L425.5,351.3 L427.1,351.8 L428.6,352.3 L430.2,352.7 L431.8,353.2 L433.3,353.7 L434.9,354.1 L436.4,354.6 L438.0,355.1 L439.5,355.5 L441.1,356.0 L442.7,356.5 L444.2,356.9 L445.8,357.4 L447.3,357.9 L448.9,358.3 L450.4,358.8 L452.0,359.3 L453.6,359.7 L455.1,360.2 L456.7,360.6 L458.2,361.1 L459.8,361.6 L461.3,362.0 L462.9,362.5 L464.5,363.0 L466.0,363.4 L467.6,363.9 L469.1,364.4 L470.7,364.8 L472.2,365.3 L473.8,365.8 L475.4,366.2 L476.9,366.7 L478.5,367.2 L480.0,367.6 L481.6,368.1 L483.1,368.6 L484.7,369.0 L486.3,369.5 L487.8,370.0 L489.4,370.4 L490.9,370.9 L492.5,371.3 L494.0,371.8 L495.6,372.3 L497.2,372.7 L498.7,373.2 L500.3,373.7 L501.8,374.1 L503.4,374.6 L504.9,375.1 L506.5,375.5 L508.1,376.0 L509.6,376.5 L511.2,376.9 L512.7,377.4 L514.3,377.9 L515.8,378.3 L517.4,378.8 L519.0,379.3 L520.5,379.7 L522.1,380.2 L523.6,380.6 L525.2,381.1 L526.7,381.6 L528.3,382.0 L529.9,382.5 L531.4,383.0 L533.0,383.4 L534.5,383.9 L536.1,384.4 L537.6,384.8 L539.2,385.3 L540.8,385.8 L542.3,386.2 L543.9,386.7 L545.4,387.2 L547.0,387.6 L548.5,388.1 L550.1,388.6 L551.7,389.0 L553.2,389.5 L554.8,389.9 L556.3,390.4 L557.9,390.9 L559.4,391.3 L561.0,391.8 L562.6,392.3 L564.1,392.7 L565.7,393.2 L567.2,393.7 L568.8,394.1 L570.3,394.6 L571.9,395.1 L573.5,395.5 L575.0,396.0 L576.6,396.5 L578.1,396.9 L579.7,397.4 L581.2,397.9 L582.8,398.3 L584.4,398.8 L585.9,399.2 L587.5,399.7 L589.0,400.2 L590.6,400.6 L592.1,401.1 L593.7,401.6 L595.2,402.0 L596.8,402.5 L598.4,403.0 L599.9,403.4 L601.5,403.9 L603.0,404.4 L604.6,404.8 L606.1,405.3 L607.7,405.8 L609.3,406.2 L610.8,406.7 L612.4,407.2 L613.9,407.6 L615.5,408.1 L617.0,408.5 L618.6,409.0 L620.2,409.5 L621.7,409.9 L623.3,410.4 L624.8,410.9 L626.4,411.3 L627.9,411.8 L629.5,412.3 L631.1,412.7 L632.6,413.2 L634.2,413.7 L635.7,414.1 L637.3,414.6 L638.8,415.1 L640.4,415.5 L642.0,416.0 L643.5,416.5 L645.1,416.9 L646.6,417.4 L648.2,417.8 L649.7,418.3 L651.3,418.8 L652.9,419.2 L654.4,419.7 L656.0,420.2 L657.5,420.6 L659.1,421.1 L660.6,421.6 L662.2,422.0 L663.8,422.5 L665.3,423.0 L666.9,423.4 L668.4,423.9 L670.0,424.4 L671.5,424.8 L673.1,425.3 L674.7,425.8 L676.2,426.2 L677.8,426.7 L679.3,427.2 L680.9,427.6 L682.4,428.1 L684.0,428.5 L685.6,429.0 L687.1,429.5 L688.7,429.9 L690.2,430.4 L691.8,430.9 L693.3,431.3 L694.9,431.8 L696.5,432.3 L698.0,432.7 L699.6,433.2 L701.1,433.7 L702.7,434.1 L704.2,434.6 L705.8,435.1 L707.4,435.5 L708.9,436.0 L710.5,436.5 L712.0,436.9 L713.6,437.4 L715.1,437.8 L716.7,438.3 L718.3,438.8 L719.8,439.2 L721.4,439.7 L722.9,439.4 L724.5,440.1 L726.0,440.8 L727.6,441.5 L729.2,442.1 L730.7,442.8 L732.3,443.4 L733.8,444.1 L735.4,444.7 L736.9,445.4 L738.5,446.0 L740.1,446.6 L741.6,447.3 L743.2,447.9 L744.7,448.5 L746.3,449.1 L747.8,449.7 L749.4,450.3 L751.0,450.9 L752.5,451.5 L754.1,452.1 L755.6,452.7 L757.2,453.2 L758.7,453.8 L760.3,454.4 L761.9,454.9 L763.4,455.5 L765.0,456.0 L766.5,456.6 L768.1,457.1" stroke="#00ffff" stroke-width="1.1"/>
</g>
<text class="t" x="197.8" y="444.45" text-anchor="end">6</text>
<text class="t" x="197.8" y="383.55" text-anchor="end">7</text>
<text class="t" x="197.8" y="322.65" text-anchor="end">8</text>
<text class="t" x="197.8" y="261.75" text-anchor="end">9</text>
<path d="M173.35 200.85h3.05v-19.75h-2q-0.9 3.3-5.5 3.85v2.05h4.45z" fill="#000"/>
<text class="t" x="197.8" y="200.85" text-anchor="end">0</text>
<path d="M173.35 139.95h3.05v-19.75h-2q-0.9 3.3-5.5 3.85v2.05h4.45z" fill="#000"/>
<path d="M188.40 139.95h3.05v-19.75h-2q-0.9 3.3-5.5 3.85v2.05h4.45z" fill="#000"/>
<path d="M173.35 88.77h3.05v-19.75h-2q-0.9 3.3-5.5 3.85v2.05h4.45z" fill="#000"/>
<text class="t" x="197.8" y="88.77" text-anchor="end">2</text>
<path d="M277.18 510.90h3.05v-19.75h-2q-0.9 3.3-5.5 3.85v2.05h4.45z" fill="#000"/>
<text class="t" x="285.40" y="510.9">500</text>
<text class="t" x="425.53" y="510.9">2000</text>
<text class="t" x="581.24" y="510.9">2500</text>
<text class="t" x="736.94" y="510.9">3000</text>
<text class="t" x="0" y="0" text-anchor="middle" transform="translate(135.8 263.5) rotate(-90)">k(<tspan font-family="Liberation Serif" font-style="italic">λ</tspan>)</text>
<text class="t" x="458.6" y="553.7" font-family="Liberation Serif" font-style="italic" style="font-family:'Liberation Serif',serif">λ</text>
<text class="t" x="479.6" y="553.7">(</text>
<text class="t" x="0" y="0" transform="translate(488.1 553.7) scale(0.957 1.07)">A</text>
<circle cx="497.15" cy="529.7" r="2.55" fill="none" stroke="#000" stroke-width="1.3"/>
<text class="t" x="505.1" y="553.7">)</text>
<path d="M670.7 117.45H721.4" stroke="#0000ff" stroke-width="2.5"/>
<path d="M670.7 147.05H721.4" stroke="#ffa500" stroke-width="1.2"/>
<path d="M670.7 176.85H721.4" stroke="#ff0000" stroke-width="1.0"/>
<text class="l" x="600.0" y="124.6">k(SB)</text>
<text class="l" x="521.0" y="154.0">k(SB)</text>
<path d="M575.1 148.25H587.9M581.45 142.05V154.45" stroke="#000" stroke-width="1.5" fill="none"/>
<text class="l" x="589.9" y="154.0">k</text>
<text class="s" x="600.6" y="160.4">bump</text>
<text class="l" x="634.5" y="154.0">/</text>
<text class="l" x="641.0" y="154.0">4</text>
<text class="l" x="521.0" y="183.8">k(SB)</text>
<path d="M575.1 178.05H587.9M581.45 171.85V184.25" stroke="#000" stroke-width="1.5" fill="none"/>
<text class="l" x="589.9" y="183.8">k</text>
<text class="s" x="600.6" y="190.2">bump</text>
<text class="l" x="634.5" y="183.8">/</text>
<text class="l" x="641.0" y="183.8">2</text>
<path d="M254.1 380.1H304.2" stroke="#000" stroke-width="2.5"/>
<path d="M254.1 409.7H304.2" stroke="#00ffff" stroke-width="1.05"/>
<text class="l" x="322.7" y="387.0">k(MW)</text>
<text class="l" x="322.7" y="416.6">k(MW)</text>
<text class="l" x="384.0" y="416.6">-</text>
<text class="l" x="390.5" y="416.6">k</text>
<text class="s" x="401.0" y="423.0">bump</text>
</svg></body></html>
